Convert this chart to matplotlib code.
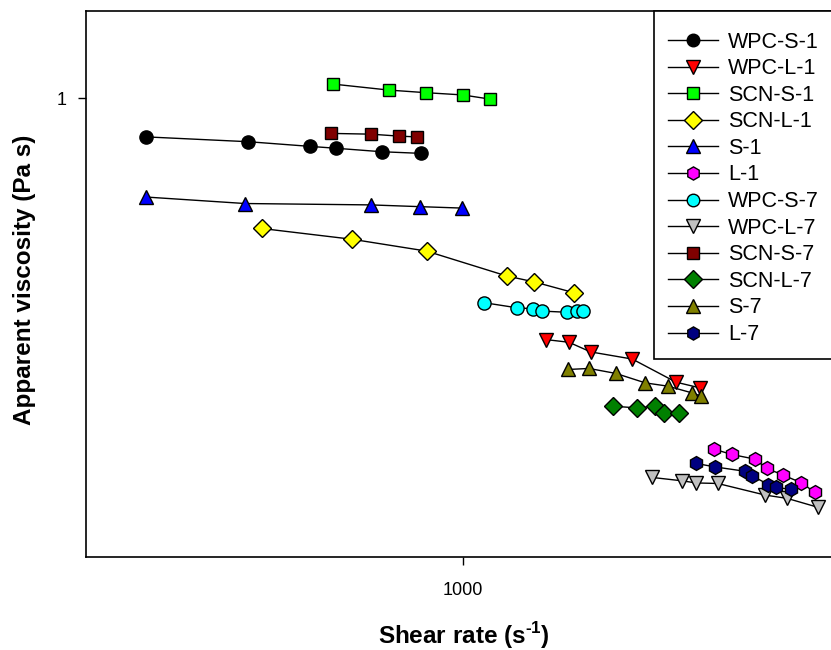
import matplotlib
matplotlib.use("Agg")
import matplotlib.pyplot as plt
from matplotlib.patches import Rectangle
from matplotlib.ticker import FixedLocator, FixedFormatter, NullLocator

plt.rcParams['font.family'] = ['Liberation Sans', 'DejaVu Sans']
plt.rcParams['mathtext.fontset'] = 'custom'
plt.rcParams['mathtext.rm'] = 'Liberation Sans'
plt.rcParams['mathtext.bf'] = 'Liberation Sans:bold'

# ---- data (shear rate, apparent viscosity) ----
wpc_s_1_x = [272, 414, 534, 593, 716, 840]
wpc_s_1_y = [0.830, 0.811, 0.793, 0.786, 0.773, 0.767]

wpc_l_1_x = [1407, 1546, 1690, 2006, 2401, 2653]
wpc_l_1_y = [0.314, 0.310, 0.296, 0.286, 0.256, 0.249]

scn_s_1_x = [587, 737, 859, 999, 1117]
scn_s_1_y = [1.069, 1.039, 1.026, 1.015, 0.995]

scn_l_1_x = [437, 634, 861, 1197, 1341, 1580]
scn_l_1_y = [0.535, 0.508, 0.480, 0.426, 0.414, 0.393]

s_1_x = [272, 408, 685, 838, 994]
s_1_y = [0.622, 0.603, 0.599, 0.594, 0.590]

l_1_x = [2807, 3018, 3322, 3486, 3733, 4009, 4253]
l_1_y = [0.1857, 0.1810, 0.1770, 0.1693, 0.1639, 0.1582, 0.1509]

wpc_s_7_x = [1092, 1249, 1335, 1382, 1532, 1600, 1640]
wpc_s_7_y = [0.3747, 0.3657, 0.364, 0.360, 0.358, 0.360, 0.3594]

wpc_l_7_x = [2178, 2464, 2607, 2850, 3462, 3794, 4311]
wpc_l_7_y = [0.1621, 0.1595, 0.1579, 0.1575, 0.1490, 0.1466, 0.1404]

scn_s_7_x = [581, 684, 770, 827]
scn_s_7_y = [0.844, 0.841, 0.833, 0.830]

scn_l_7_x = [1851, 2043, 2202, 2285, 2433]
scn_l_7_y = [0.2282, 0.2263, 0.2282, 0.2210, 0.2204]

s_7_x = [1542, 1679, 1874, 2117, 2320, 2564, 2661]
s_7_y = [0.2721, 0.2734, 0.2670, 0.2551, 0.2512, 0.2432, 0.2394]

l_7_x = [2607, 2818, 3189, 3286, 3509, 3622, 3847]
l_7_y = [0.1734, 0.1705, 0.1670, 0.1633, 0.1567, 0.1545, 0.1532]

series_names = ['WPC-S-1', 'WPC-L-1', 'SCN-S-1', 'SCN-L-1', 'S-1', 'L-1',
                'WPC-S-7', 'WPC-L-7', 'SCN-S-7', 'SCN-L-7', 'S-7', 'L-7']
series_x = [wpc_s_1_x, wpc_l_1_x, scn_s_1_x, scn_l_1_x, s_1_x, l_1_x,
            wpc_s_7_x, wpc_l_7_x, scn_s_7_x, scn_l_7_x, s_7_x, l_7_x]
series_y = [wpc_s_1_y, wpc_l_1_y, scn_s_1_y, scn_l_1_y, s_1_y, l_1_y,
            wpc_s_7_y, wpc_l_7_y, scn_s_7_y, scn_l_7_y, s_7_y, l_7_y]

x_ticks = [1000]
x_tick_labels = ['1000']
y_ticks = [1]
y_tick_labels = ['1']

# ---- styles ----
colors = ['#000000', '#FF0000', '#00FF00', '#FFFF00', '#0000FF', '#FF00FF',
          '#00FFFF', '#C0C0C0', '#800000', '#008000', '#808000', '#000080']
markers = ['o', 'v', 's', 'D', '^', 'h', 'o', 'v', 's', 'D', '^', 'h']
msizes = {'o': 9.5, 'v': 10, '^': 10, 's': 8.5, 'D': 9.5, 'h': 10}

fig = plt.figure(figsize=(8.31, 6.5), dpi=100)
ax = fig.add_axes([86/831, (650-557)/650, (831-86)/831 + 0.01, (557-11)/650])

handles = []
for name, xs, ys, c, m in zip(series_names, series_x, series_y, colors, markers):
    h, = ax.plot(xs, ys, color='black', lw=1.0, marker=m, markersize=msizes[m],
                 markerfacecolor=c, markeredgecolor='black', markeredgewidth=1.0,
                 label=name)
    handles.append(h)

ax.set_xscale('log')
ax.set_yscale('log')
ax.set_xlim(212.3, 4540 * 10**(8.31/560))
ax.set_ylim(0.1107, 1.518)

ax.xaxis.set_major_locator(FixedLocator(x_ticks))
ax.xaxis.set_major_formatter(FixedFormatter(x_tick_labels))
ax.xaxis.set_minor_locator(NullLocator())
ax.yaxis.set_major_locator(FixedLocator(y_ticks))
ax.yaxis.set_major_formatter(FixedFormatter(y_tick_labels))
ax.yaxis.set_minor_locator(NullLocator())
ax.tick_params(axis='x', direction='out', length=6, width=1, labelsize=13, pad=12)
ax.tick_params(axis='y', direction='out', length=6, width=1, labelsize=13, pad=8)

for sp in ax.spines.values():
    sp.set_linewidth(1.2)

fig.text(464/831, 1-636/650, 'Shear rate (s$^{\\mathbf{\u2010}\\mathbf{1}}$)',
         ha='center', va='center', fontsize=17.5, fontweight='bold')
fig.text(25/831, 1-280/650, 'Apparent viscosity (Pa s)', ha='center', va='center',
         rotation=90, fontsize=17.5, fontweight='bold')

# legend frame (extends past the right edge, as in the reference)
frame = Rectangle((654/831, 1-359/650), 200/831, (359-11)/650,
                  transform=fig.transFigure, facecolor='white', edgecolor='black',
                  linewidth=1.2, zorder=3)
fig.patches.append(frame)

leg = fig.legend(handles=handles, labels=series_names, loc='upper left',
                 bbox_to_anchor=(668/831, 1-31.5/650),
                 bbox_transform=fig.transFigure, fontsize=15.5, frameon=False,
                 handlelength=2.3, handletextpad=0.5, labelspacing=0.26,
                 borderpad=0, borderaxespad=0, markerscale=0.95)
leg.set_zorder(5)

fig.savefig('out.png', dpi=100)
